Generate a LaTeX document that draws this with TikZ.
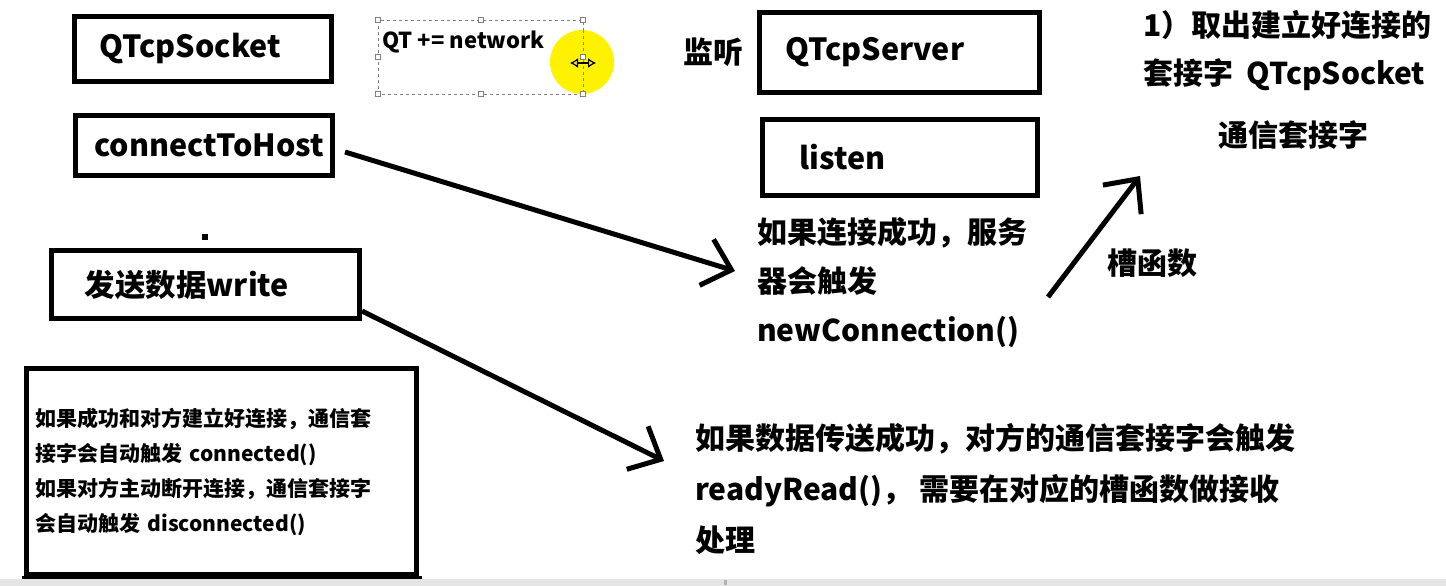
\documentclass[tikz,border=0pt]{standalone}
\usepackage{fontspec}
\setmainfont{Noto Sans CJK SC}
\usepackage{xcolor}
\definecolor{markyellow}{HTML}{FFF200}
\usetikzlibrary{arrows.meta,positioning}

\tikzset{
  boxframe/.style={draw, line width=5pt, anchor=north west,
    inner ysep=0pt, align=left},
  boxtext/.style={font=\bfseries\fontsize{30.5}{34}\selectfont},
  notetext/.style={font=\bfseries\fontsize{30}{49}\selectfont,
    align=left, inner sep=0pt},
  smalltext/.style={font=\bfseries\fontsize{21}{35}\selectfont},
  barbarrow/.style={line width=5pt,
    -{Straight Barb[length=26pt,width=48pt,line width=5pt]}},
  selhandle/.style={draw=gray, fill=white, line width=0.8pt}
}

\begin{document}
\begin{tikzpicture}[x=1pt,y=-1pt]

\useasboundingbox (0,0) rectangle (1446,586);

% Client side boxes
\node[boxframe, boxtext, minimum height=65pt, text width=207pt,
  inner xsep=25pt] (sockbox) at (72,14) {QTcpSocket};

\node[boxframe, boxtext, minimum height=60pt, text width=219pt,
  inner xsep=19pt] (hostbox) at (73,113) {connectToHost};

\fill (202,234) rectangle (208,240);

\node[boxframe, boxtext, minimum height=68pt, text width=242pt,
  inner xsep=33pt] (writebox) at (49,248) {发送数据write};

\node[boxframe, smalltext, minimum height=206pt, text width=372pt,
  inner xsep=9pt] (infobox) at (24,366)
  {如果成功和对方建立好连接，通信套\\
   接字会自动触发 connected()\\
   如果对方主动断开连接，通信套接字\\
   会自动触发 disconnected()\\[4pt]};
\fill (infobox.south west) ++(-2.5,-1) rectangle ([xshift=2.5pt,yshift=-3pt]infobox.south east);

% Selected text frame with the cursor mark
\draw[gray, dashed, line width=0.8pt] (378,20) rectangle (583,94);
\node[anchor=west, inner sep=0pt,
  font=\bfseries\fontsize{22}{24}\selectfont] (qtline) at (382,42)
  {QT += network};
\fill[markyellow] (582,62) circle (32);
\draw[gray, dashed, line width=0.8pt] (583,30) -- (583,94);
\foreach \hx/\hy in {378/20, 481/20, 583/20, 378/57, 583/57,
                     378/94, 481/94, 583/94}
  \draw[selhandle] (\hx-2.5,\hy-2.5) rectangle (\hx+2.5,\hy+2.5);
\draw[line width=1.2pt, fill=white,
  {Latex[open,length=8pt,width=10pt]}-{Latex[open,length=8pt,width=10pt]}]
  (570,63) -- (596,63);

% Server side boxes
\node[notetext, anchor=west] (listenlbl) at (683,52) {监听};

\node[boxframe, boxtext, minimum height=80pt, text width=228pt,
  inner xsep=26pt] (serverbox) at (757,10) {QTcpServer};

\node[boxframe, boxtext, minimum height=76pt, text width=201pt,
  inner xsep=37pt] (listenbox) at (760,117) {listen};

\node[notetext, anchor=north west] (conntext) at (757,217)
  {如果连接成功，服务\\器会触发\\newConnection()};

% Right hand notes
\node[notetext, anchor=north west, font=\bfseries\fontsize{30}{48}\selectfont]
  (takenote) at (1143,10) {1）取出建立好连接的\\套接字\ \ QTcpSocket};

\node[notetext] (socknote) at (1293,135) {通信套接字};

\node[notetext] (slotlbl) at (1152,263) {槽函数};

\node[notetext, anchor=north west, font=\bfseries\fontsize{30}{51}\selectfont]
  (readtext) at (695,423)
  {如果数据传送成功，对方的通信套接字会触发\\
   readyRead()， 需要在对应的槽函数做接收\\
   处理};

% Arrows
\coordinate (hostout) at (345,152);
\coordinate (conntip) at (735,271);
\coordinate (writeout) at (362,311);
\coordinate (readtip) at (664,461);
\coordinate (slotfrom) at (1048,297);
\coordinate (slottip) at (1140,176);

\draw[barbarrow] (hostout) -- (conntip);
\draw[barbarrow] (writeout) -- (readtip);
\draw[barbarrow] (slotfrom) -- (slottip);

% Bottom strip of the window
\fill[gray!20] (0,579) rectangle (1446,586);
\fill[gray!60] (724,580) rectangle (727,585);

\end{tikzpicture}
\end{document}
